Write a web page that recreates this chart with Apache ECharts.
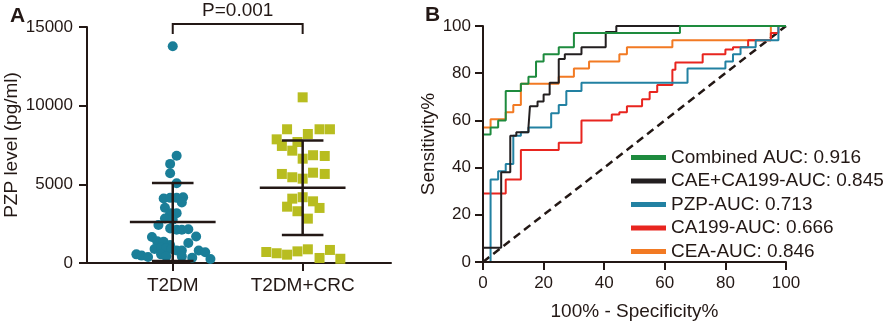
<!DOCTYPE html>
<html>
<head>
<meta charset="utf-8">
<script src="https://cdn.jsdelivr.net/npm/echarts@6/dist/echarts.min.js"></script>
<style>
  html, body { margin: 0; padding: 0; background: #fff; }
  #chart { width: 886px; height: 326px; }
</style>
</head>
<body>
<div id="chart"></div>
<script>
// ---- panel A data ----
const groupNames = ['T2DM', 'T2DM+CRC']
const t2dmValues = [13780, 6820, 6300, 5700, 5070, 4100, 4140, 4140, 4180, 3850, 3510, 3170, 3170, 2830, 2750, 2410, 2200, 2110, 2110, 2150, 1690, 1650, 1390, 1350, 1140, 1270, 890, 970, 930, 890, 800, 800, 800, 680, 550, 470, 380, 550, 420, 340, 250, 420]
const t2dmJitter = [0, 0.03, -0.02, -0.02, 0.03, -0.07, -0.02, 0.03, 0.08, 0.07, -0.06, -0.02, 0.03, -0.06, 0, -0.11, -0.02, 0.03, 0.07, 0.12, 0.18, -0.16, -0.12, -0.07, -0.02, 0.12, -0.14, -0.09, -0.05, -0.01, 0.03, 0.07, 0.20, 0.25, -0.28, -0.24, -0.19, -0.09, -0.05, 0.15, 0.29, 0.07]
const crcValues = [10530, 8500, 8500, 8500, 7860, 8200, 7690, 7440, 7140, 6630, 6850, 6800, 5660, 5450, 5360, 5740, 5660, 4090, 4180, 3920, 3580, 3290, 3500, 2820, 700, 620, 530, 740, 870, 320, 830, 270]
const crcJitter = [0, -0.12, 0.13, 0.21, -0.20, 0.04, -0.04, -0.16, -0.08, 0, 0.08, 0.17, -0.16, -0.08, 0, 0.08, 0.17, -0.08, 0, 0.08, -0.12, -0.04, 0.13, 0.04, -0.28, -0.20, -0.12, -0.04, 0.04, 0.13, 0.21, 0.29]
const groupMeans = [2600, 4780]
const groupSDs = [2480, 3000]
const pValueText = 'P=0.001'
const yTicksA = [0, 5000, 10000, 15000]

// ---- panel B data (ROC step points: [1-specificity, sensitivity]) ----
const rocNames = ['Combined AUC: 0.916', 'CAE+CA199-AUC: 0.845', 'PZP-AUC: 0.713', 'CA199-AUC: 0.666', 'CEA-AUC: 0.846']
const combinedRoc = [[0, 0], [0, 54], [2.5, 57], [5, 60], [7.5, 72.5], [12.5, 75.5], [15, 78.5], [17.5, 85], [20, 88], [25, 91], [30, 97], [65, 100], [100, 100]]
const caeCa199Roc = [[0, 0], [0, 6], [6, 38], [9, 53.5], [11, 55], [15, 57], [15.5, 66], [18, 68], [20, 71], [22, 76], [25, 86], [27, 88], [32.5, 91], [40.5, 97.5], [44, 100], [100, 100]]
const pzpRoc = [[0, 0], [2.5, 35], [5, 38.5], [7.5, 41.5], [10, 53.5], [12.5, 55], [15, 57], [22.5, 63], [25, 66.5], [27.5, 72.5], [32.5, 76], [67.5, 82], [80, 85], [82.5, 88], [85, 91], [90, 94], [97.5, 100], [100, 100]]
const ca199Roc = [[0, 0], [0, 29], [7.5, 35], [12.5, 47.5], [25, 50.5], [32.5, 60], [42.5, 62.5], [45, 63.5], [47.5, 66], [52.5, 69], [55, 72], [57.5, 75], [62.5, 81.5], [63.5, 84.5], [72.5, 88], [80, 90], [82.5, 91], [87.5, 94], [95, 97], [97.5, 100], [100, 100]]
const ceaRoc = [[0, 0], [0, 57], [2.5, 60.5], [7.5, 63.5], [10, 66.5], [12.5, 75.5], [25, 78.5], [30, 82], [35, 85], [45, 88], [47.5, 91], [62.5, 94], [95, 100], [100, 100]]
const referenceLine = [[0, 0], [100, 100]]
const rocColors = ['#1e8b3e', '#231f20', '#2281a2', '#e8251f', '#f27a23']

const ink = '#231815'
const font = 'Liberation Sans, Arial, sans-serif'

let myChart = echarts.init(document.getElementById('chart'))

const axisCommon = {
  axisLine: { show: true, onZero: false, lineStyle: { color: ink, width: 2 } },
  axisTick: { show: true, inside: false, length: 8, lineStyle: { color: ink, width: 2 } },
  axisLabel: { color: ink, fontSize: 17, fontFamily: font, formatter: v => String(v) },
  splitLine: { show: false },
  nameTextStyle: { color: ink, fontSize: 19, fontFamily: font }
}

myChart.setOption({
  animation: false,
  backgroundColor: '#fff',
  textStyle: { fontFamily: font },
  title: [
    { text: 'A', left: 5, top: 1, textStyle: { fontSize: 21, fontWeight: 'bold', color: ink, fontFamily: font } },
    { text: 'B', left: 420, top: 0, textStyle: { fontSize: 21, fontWeight: 'bold', color: ink, fontFamily: font } }
  ],
  grid: [
    { left: 87, top: 27, width: 304, height: 236 },
    { left: 483, top: 26, width: 303, height: 237 }
  ],
  legend: {
    orient: 'vertical',
    left: 626,
    top: 143,
    itemWidth: 35,
    itemHeight: 5,
    itemGap: 4.5,
    icon: 'rect',
    data: rocNames,
    textStyle: { color: ink, fontSize: 19, fontFamily: font },
    selectedMode: false
  },
  xAxis: [
    Object.assign({}, axisCommon, {
      gridIndex: 0,
      type: 'value',
      min: 0.34,
      max: 2.68,
      axisTick: Object.assign({}, axisCommon.axisTick, { customValues: [1, 2] }),
      axisLabel: Object.assign({}, axisCommon.axisLabel, {
        fontSize: 19,
        margin: 13,
        customValues: [1, 2],
        formatter: function (v) { return groupNames[Math.round(v) - 1] }
      })
    }),
    Object.assign({}, axisCommon, {
      gridIndex: 1,
      type: 'value',
      min: 0,
      max: 100,
      interval: 20,
      z: 5,
      name: '100% - Specificity%',
      nameLocation: 'middle',
      nameGap: 40,
      axisLabel: Object.assign({}, axisCommon.axisLabel, { margin: 13 })
    })
  ],
  yAxis: [
    Object.assign({}, axisCommon, {
      gridIndex: 0,
      type: 'value',
      min: 0,
      max: 15000,
      interval: 5000,
      name: 'PZP level (pg/ml)',
      nameLocation: 'middle',
      nameGap: 66,
      axisLabel: Object.assign({}, axisCommon.axisLabel, { margin: 14 })
    }),
    Object.assign({}, axisCommon, {
      gridIndex: 1,
      type: 'value',
      min: 0,
      max: 100,
      interval: 20,
      z: 5,
      name: 'Sensitivity%',
      nameLocation: 'middle',
      nameGap: 40,
      axisLabel: Object.assign({}, axisCommon.axisLabel, { margin: 12 })
    })
  ],
  series: [
    {
      name: 'T2DM',
      type: 'scatter',
      xAxisIndex: 0,
      yAxisIndex: 0,
      symbol: 'circle',
      symbolSize: 10,
      itemStyle: { color: '#1a7e98', opacity: 1 },
      data: t2dmValues.map((v, i) => [1 + t2dmJitter[i], v]),
      z: 2
    },
    {
      name: 'T2DM+CRC',
      type: 'scatter',
      xAxisIndex: 0,
      yAxisIndex: 0,
      symbol: 'rect',
      symbolSize: 10,
      itemStyle: { color: '#b8bd20', opacity: 1 },
      data: crcValues.map((v, i) => [2 + crcJitter[i], v]),
      z: 2
    },
    {
      // mean ± SD bars
      type: 'custom',
      xAxisIndex: 0,
      yAxisIndex: 0,
      z: 3,
      clip: false,
      data: groupMeans.map((m, i) => [i + 1, m, groupSDs[i]]),
      renderItem: function (params, api) {
        const x = api.value(0)
        const m = api.value(1)
        const s = api.value(2)
        const style = { stroke: ink, lineWidth: 2.5 }
        const seg = (a, b) => ({ type: 'line', shape: { x1: a[0], y1: a[1], x2: b[0], y2: b[1] }, style: style })
        return {
          type: 'group',
          children: [
            seg(api.coord([x, Math.max(m - s, 0)]), api.coord([x, m + s])),
            seg(api.coord([x - 0.33, m]), api.coord([x + 0.33, m])),
            seg(api.coord([x - 0.16, m + s]), api.coord([x + 0.16, m + s])),
            seg(api.coord([x - 0.16, m - s]), api.coord([x + 0.16, m - s]))
          ]
        }
      }
    },
    {
      // significance bracket
      type: 'custom',
      xAxisIndex: 0,
      yAxisIndex: 0,
      z: 3,
      clip: false,
      data: [[1, 2, yTicksA[yTicksA.length - 1]]],
      renderItem: function (params, api) {
        const a = api.coord([api.value(0), api.value(2)])
        const b = api.coord([api.value(1), api.value(2)])
        const top = a[1] - 3
        const style = { stroke: ink, lineWidth: 2, fill: null }
        return {
          type: 'group',
          children: [
            { type: 'polyline', shape: { points: [[a[0], top + 10], [a[0], top], [b[0], top], [b[0], top + 10]] }, style: style },
            { type: 'text', x: (a[0] + b[0]) / 2, y: top - 4, style: { text: pValueText, fill: ink, fontSize: 19, fontFamily: font, align: 'center', verticalAlign: 'bottom' } }
          ]
        }
      }
    },
    {
      type: 'line',
      xAxisIndex: 1,
      yAxisIndex: 1,
      data: referenceLine,
      symbol: 'none',
      silent: true,
      lineStyle: { color: ink, width: 2.5, type: [8, 5] },
      z: 1
    },
    ...[combinedRoc, caeCa199Roc, pzpRoc, ca199Roc, ceaRoc].map((pts, i) => ({
      name: rocNames[i],
      type: 'line',
      xAxisIndex: 1,
      yAxisIndex: 1,
      step: 'end',
      data: pts,
      symbol: 'none',
      clip: false,
      color: rocColors[i],
      lineStyle: { color: rocColors[i], width: 2 },
      z: 2 + (4 - i) * 0.1
    }))
  ]
})
</script>
</body>
</html>
